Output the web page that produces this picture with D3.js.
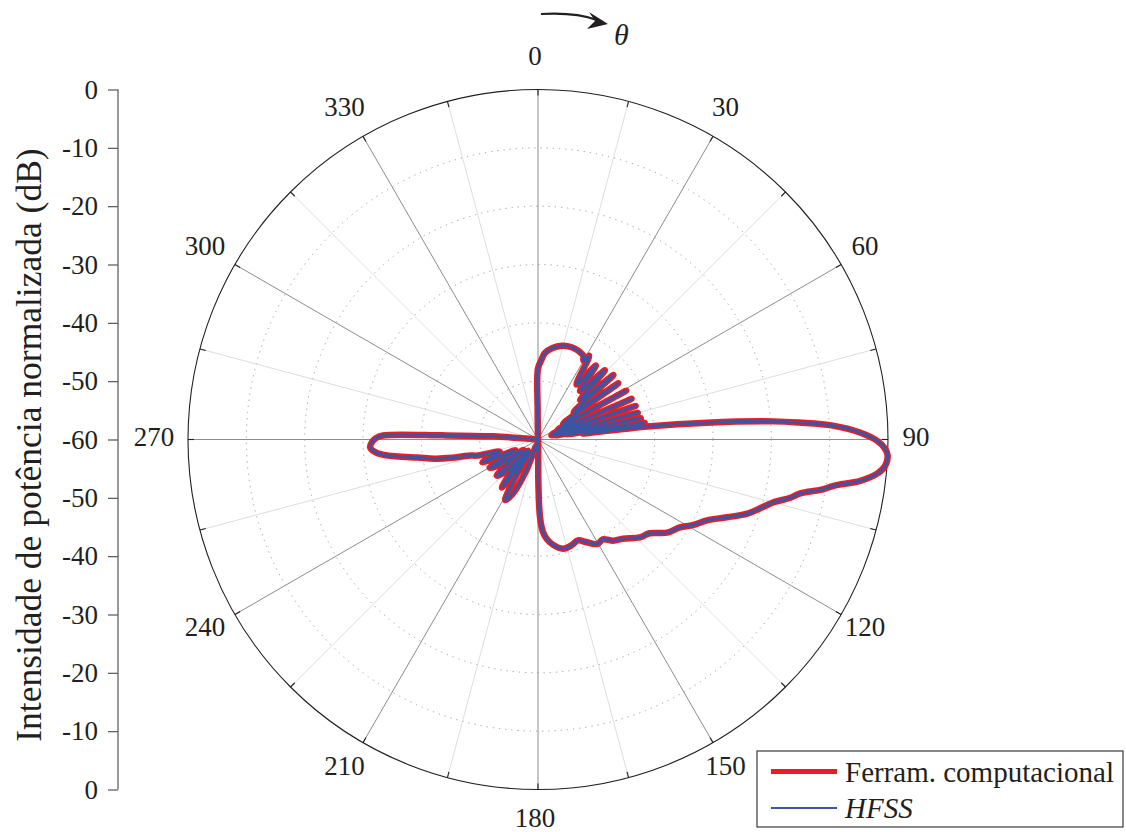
<!DOCTYPE html>
<html>
<head>
<meta charset="utf-8">
<script src="https://cdn.jsdelivr.net/npm/d3@7"></script>
<style>
  body { margin: 0; background: #fff; }
  svg { display: block; }
  svg text { font-family: "Liberation Serif", "Times New Roman", Times, "DejaVu Serif", serif !important; fill: #231f20; }
</style>
</head>
<body>
<svg id="chart" width="1126" height="832"></svg>
<script>
// Radiation pattern, theta in degrees (clockwise from 0), normalized power in dB
const thetaDeg = [
  0, 2.5, 4.6, 9, 14.3, 18, 22, 26, 28.5, 30, 31.5, 35, 38, 41, 44, 47, 49.5, 52.5, 55, 58,
  61, 63.8, 66.5, 69, 71, 73, 75, 76.8, 78.3, 79.7, 81, 82.3, 83.2, 84.3, 85.6, 86.3, 87.3, 88.75,
  90.2, 91.5, 92.6, 94.3, 95.7, 97.3, 98.9, 100, 101.6, 103, 105, 107.3, 109.5, 112.4, 115.6, 119,
  121.8, 125.8, 130, 133.9, 139.4, 143.4, 147, 150.4, 154.6, 158.4, 162.2, 167.1, 172, 175, 177,
  178.5, 179.5, 180.5, 185, 190, 195, 201, 205, 208.4, 211, 213.5, 216.9, 220, 222.5, 226, 228.7,
  232, 234.5, 237.5, 239.7, 242.5, 244.5, 247.7, 250.5, 252.5, 255, 257, 258, 259.5, 261.5, 263,
  264.3, 265.7, 267.3, 269, 270.5, 271.5, 272.5, 274, 276, 358, 359.3
];

const ferramDb = [
  -47.8, -46.3, -45.1, -44.1, -43.4, -43.2, -43.2, -43.4, -43.7, -44.4, -43.2, -48.5, -43.9, -49.0, -43.5, -50.1, -43.0, -52.3, -43.2, -54.9,
  -42.7, -56.2, -42.5, -57.3, -42.3, -57.6, -42.3, -56.9, -42.0, -54.9, -41.5, -52.3, -41.1, -30.9, -19.5, -15.1, -9.4, -4.8,
  -1.9, -0.5, 0.0, -0.3, -1.5, -4.3, -8.7, -10.6, -14.1, -15.6, -18.3, -20.2, -21.9, -25.0, -27.9, -29.7,
  -31.4, -32.7, -35.0, -35.8, -37.6, -38.4, -39.6, -39.4, -40.5, -41.4, -41.0, -40.8, -41.8, -42.9, -44.2,
  -46.6, -52.3, -60.0, -59.3, -58.3, -59.0, -54.0, -49.7, -48.2, -52.3, -57.4, -49.7, -53.1, -57.4, -51.8, -50.6,
  -54.0, -56.9, -51.4, -50.4, -54.0, -55.7, -49.7, -52.3, -53.1, -49.4, -47.7, -44.9, -42.0, -39.1, -36.0,
  -33.4, -31.9, -31.2, -31.5, -32.2, -33.4, -43.7, -52.3, -60.0, -60.0, -54.9
];

const hfssDb = [
  -47.8, -46.3, -45.1, -44.1, -43.4, -43.2, -43.2, -43.4, -43.7, -44.4, -43.2, -48.5, -43.9, -49.0, -43.5, -50.1, -43.0, -52.3, -43.2, -54.9,
  -42.7, -56.2, -42.5, -57.3, -42.3, -57.6, -42.3, -56.9, -42.0, -54.9, -41.5, -52.3, -41.1, -30.9, -19.5, -15.1, -9.4, -4.8,
  -1.9, -0.5, 0.0, -0.3, -1.5, -4.3, -8.7, -10.6, -14.1, -15.6, -18.3, -20.2, -21.9, -25.0, -27.9, -29.7,
  -31.4, -32.7, -35.0, -35.8, -37.6, -38.4, -39.6, -39.4, -40.5, -41.4, -41.0, -40.8, -41.8, -42.9, -44.2,
  -46.6, -52.3, -60.0, -59.3, -58.3, -59.0, -54.0, -49.7, -48.2, -52.3, -57.4, -49.7, -53.1, -57.4, -51.8, -50.6,
  -54.0, -56.9, -51.4, -50.4, -54.0, -55.7, -49.7, -52.3, -53.1, -49.4, -47.7, -44.9, -42.0, -39.1, -36.0,
  -33.4, -31.9, -31.2, -31.5, -32.2, -33.4, -43.7, -52.3, -60.0, -60.0, -54.9
];

const angleTicks = [0, 30, 60, 90, 120, 150, 180, 210, 240, 270, 300, 330];
const minorAngleTicks = [15, 45, 75, 105, 135, 165, 195, 225, 255, 285, 315, 345];
const ringTicks = [-50, -40, -30, -20, -10];
// left scale: signed distance from the pole (dB), with its printed labels
const axisTicks = [-60, -50, -40, -30, -20, -10, 0, 10, 20, 30, 40, 50, 60];
const axisTickLabels = ["0", "-10", "-20", "-30", "-40", "-50", "-60", "-50", "-40", "-30", "-20", "-10", "0"];
const axisMinorTicks = [-55, -45, -35, -25, -15, -5, 5, 15, 25, 35, 45, 55];

const seriesNames = ["Ferram. computacional", "HFSS"];
const seriesColors = ["#ec1c24", "#3a55a4"];

const SERIF = "'Liberation Serif','Times New Roman',Times,'DejaVu Serif',serif";

const svg = d3.select("#chart");
const cx = 538, cy = 439.5, R = 350;

const r = d3.scaleLinear().domain([-60, 0]).range([0, R]).clamp(true);
const rad = d => d * Math.PI / 180;

const g = svg.append("g").attr("transform", `translate(${cx},${cy})`);

// dotted dB rings
g.selectAll("circle.ring").data(ringTicks).join("circle")
  .attr("r", d => r(d)).attr("fill", "none")
  .attr("stroke", "#9a9a9a").attr("stroke-width", 1).attr("stroke-dasharray", "1.2,5");

// spokes
g.selectAll("line.minor").data(minorAngleTicks).join("line")
  .attr("x1", 0).attr("y1", 0)
  .attr("x2", d => R * Math.sin(rad(d))).attr("y2", d => -R * Math.cos(rad(d)))
  .attr("stroke", "#dedede").attr("stroke-width", 1);
g.selectAll("line.major").data(angleTicks).join("line")
  .attr("x1", 0).attr("y1", 0)
  .attr("x2", d => R * Math.sin(rad(d))).attr("y2", d => -R * Math.cos(rad(d)))
  .attr("stroke", "#8c8c8c").attr("stroke-width", 1);

// outer circle with inward ticks
g.append("circle").attr("r", R).attr("fill", "none").attr("stroke", "#231f20").attr("stroke-width", 1.1);
g.selectAll("line.otick").data(angleTicks.concat(minorAngleTicks)).join("line")
  .attr("x1", d => R * Math.sin(rad(d))).attr("y1", d => -R * Math.cos(rad(d)))
  .attr("x2", d => (R - 6) * Math.sin(rad(d))).attr("y2", d => -(R - 6) * Math.cos(rad(d)))
  .attr("stroke", "#231f20").attr("stroke-width", 1.1);

// angle labels
const labelR = 381;
g.selectAll("text.ang").data(angleTicks).join("text")
  .attr("x", d => labelR * Math.sin(rad(d)) - 3)
  .attr("y", d => -labelR * Math.cos(rad(d)) - 3)
  .attr("text-anchor", "middle").attr("dominant-baseline", "central")
  .attr("font-family", SERIF).attr("font-size", 27).text(d => d);

// pattern curves
const line = d3.lineRadial()
  .angle(d => rad(d[0]))
  .radius(d => r(d[1]))
  .curve(d3.curveCatmullRomClosed.alpha(0.5));

const ferramData = thetaDeg.map((t, i) => [t, ferramDb[i]]);
const hfssData = thetaDeg.map((t, i) => [t, hfssDb[i]]);

g.append("path").attr("d", line(ferramData)).attr("fill", "none")
  .attr("stroke", seriesColors[0]).attr("stroke-width", 6.5).attr("stroke-linejoin", "round");
g.append("path").attr("d", line(hfssData)).attr("fill", "none")
  .attr("stroke", seriesColors[1]).attr("stroke-width", 3).attr("stroke-linejoin", "round");

// left dB axis
const y = d3.scaleLinear().domain([-60, 60]).range([cy - R, cy + R]);
const axisG = svg.append("g").attr("transform", "translate(118,0)");
axisG.call(d3.axisLeft(y).tickValues(axisMinorTicks).tickSize(5).tickFormat(""));
axisG.call(d3.axisLeft(y).tickValues(axisTicks).tickSize(10).tickPadding(10)
  .tickFormat((d, i) => axisTickLabels[i]));
axisG.attr("font-family", SERIF);
axisG.select(".domain").remove();
axisG.append("line").attr("x1", 0).attr("x2", 0).attr("y1", cy - R).attr("y2", cy + R)
  .attr("stroke", "#555").attr("stroke-width", 1.2);
axisG.selectAll(".tick line").attr("stroke", "#555").attr("stroke-width", 1.2);
axisG.selectAll(".tick text")
  .attr("font-family", SERIF)
  .attr("font-size", 27).attr("fill", "#231f20");

svg.append("text")
  .attr("transform", "translate(41,445) rotate(-90)")
  .attr("text-anchor", "middle").attr("font-family", SERIF).attr("font-size", 35.5)
  .text("Intensidade de potência normalizada (dB)");

// rotation arrow and theta symbol
svg.append("path").attr("d", "M541,14 Q575,12 597,20")
  .attr("fill", "none").attr("stroke", "#231f20").attr("stroke-width", 2.2);
svg.append("path").attr("d", "M608,24 L589,12 L595,21 L587,29 Z").attr("fill", "#231f20");
svg.append("text").attr("x", 614).attr("y", 45).attr("font-family", SERIF).attr("font-size", 30)
  .attr("font-style", "italic").text("θ");

// legend
const lg = svg.append("g").attr("font-family", SERIF);
lg.append("rect").attr("x", 757).attr("y", 751).attr("width", 366).attr("height", 76)
  .attr("fill", "#fff").attr("stroke", "#3a3a3a").attr("stroke-width", 1.2);
lg.append("line").attr("x1", 771).attr("x2", 837).attr("y1", 771.5).attr("y2", 771.5)
  .attr("stroke", seriesColors[0]).attr("stroke-width", 5);
lg.append("text").attr("x", 845).attr("y", 782).attr("font-size", 29).text(seriesNames[0]);
lg.append("line").attr("x1", 771).attr("x2", 837).attr("y1", 808).attr("y2", 808)
  .attr("stroke", seriesColors[1]).attr("stroke-width", 1.8);
lg.append("text").attr("x", 845).attr("y", 818).attr("font-size", 29)
  .attr("font-style", "italic").text(seriesNames[1]);
</script>
</body>
</html>
